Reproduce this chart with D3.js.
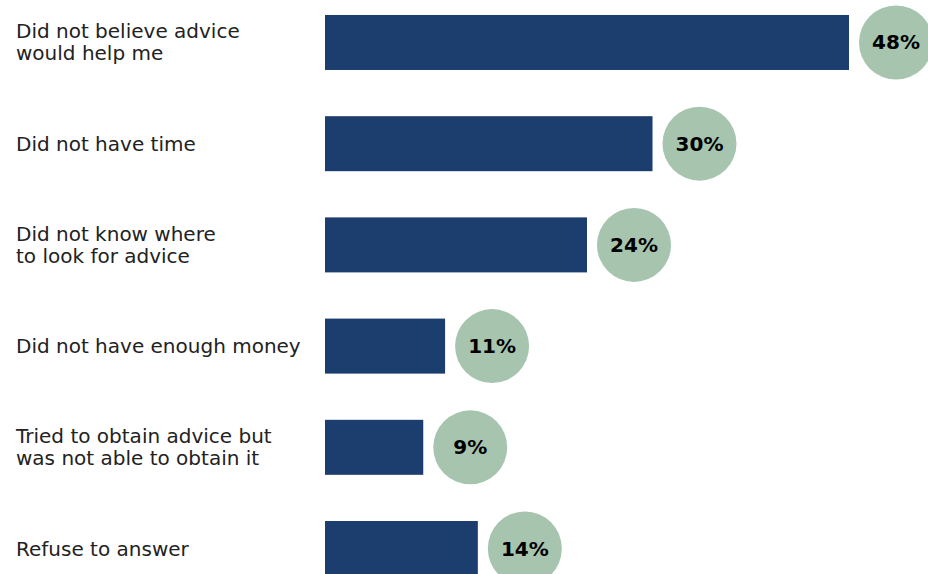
<!DOCTYPE html>
<html>
<head>
<meta charset="utf-8">
<style>
	body { margin: 0; background: white; }
	.chart text { font-family: "DejaVu Sans", sans-serif; }
	.label { fill: #222; font-size: 20px; }
	.pct { fill: #000; font-size: 20px; font-weight: bold; text-anchor: middle; }
</style>
</head>
<body>
<svg class="chart" width="928" height="574"></svg>
<script src="https://d3js.org/d3.v7.min.js"></script>
<script>
// reasons for not seeking advice
var reasons = [
	["Did not believe advice", "would help me"],
	["Did not have time"],
	["Did not know where", "to look for advice"],
	["Did not have enough money"],
	["Tried to obtain advice but", "was not able to obtain it"],
	["Refuse to answer"]
];
var shares = [48, 30, 24, 11, 9, 14];

var svg = d3.select("svg");

var x = d3.scaleLinear()
	.domain([0, 48])
	.range([325, 849]);

var y = d3.scaleBand()
	.domain(d3.range(reasons.length))
	.range([0, 591])
	.paddingInner(0.4565)
	.paddingOuter(0.148);

var rows = svg.selectAll("g.row")
	.data(shares)
	.enter()
	.append("g")
	.attr("class", "row");

rows.append("rect")
	.attr("x", x(0))
	.attr("y", function(d, i) { return y(i); })
	.attr("width", function(d) { return x(d) - x(0); })
	.attr("height", y.bandwidth())
	.style("fill", "#1b3e6f");

var r = 37;

rows.append("circle")
	.attr("cx", function(d) { return x(d) + 10 + r; })
	.attr("cy", function(d, i) { return y(i) + y.bandwidth() / 2; })
	.attr("r", r)
	.style("fill", "#a6c4ae");

rows.append("text")
	.attr("class", "pct")
	.attr("x", function(d) { return x(d) + 10 + r; })
	.attr("y", function(d, i) { return y(i) + y.bandwidth() / 2; })
	.attr("dy", "0.35em")
	.text(function(d) { return d + "%"; });

// left hand labels, one or two lines
var lineH = 22;
var labels = svg.selectAll("text.label")
	.data(reasons)
	.enter()
	.append("text")
	.attr("class", "label")
	.attr("x", 16)
	.attr("y", function(d, i) { return y(i) + y.bandwidth() / 2 - (d.length - 1) * lineH / 2; });

labels.selectAll("tspan")
	.data(function(d) { return d; })
	.enter()
	.append("tspan")
	.attr("x", 16)
	.attr("dy", function(d, j) { return j == 0 ? "0.35em" : lineH; })
	.text(function(d) { return d; });
</script>
</body>
</html>
